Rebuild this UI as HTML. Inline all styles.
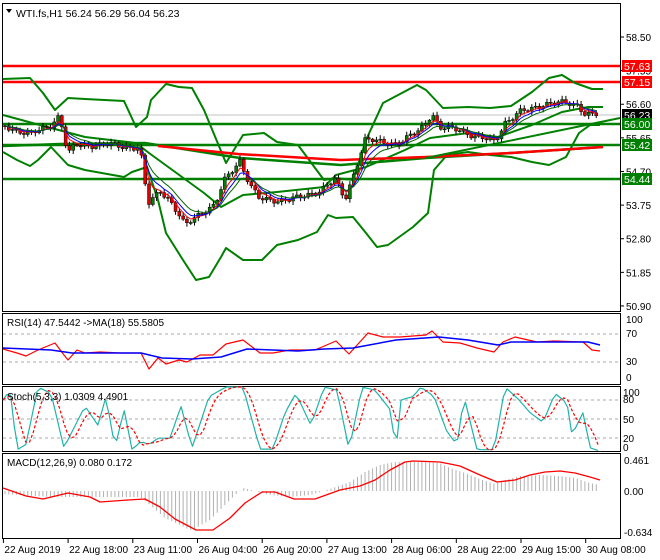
<!DOCTYPE html>
<html><head><meta charset="utf-8"><style>
html,body{margin:0;padding:0;background:#fff;}
svg{display:block;font-family:"Liberation Sans",sans-serif;}
</style></head><body>
<svg id="c" width="660" height="560" xmlns="http://www.w3.org/2000/svg"></svg>
<script>
const S=document.getElementById('c');let h='';
function interp(kp,x){if(x<=kp[0][0])return kp[0][1];for(let i=1;i<kp.length;i++){if(x<=kp[i][0]){const a=kp[i-1],b=kp[i];return a[1]+(b[1]-a[1])*(x-a[0])/(b[0]-a[0]);}}return kp[kp.length-1][1];}
function pl(pts,col,w,extra){return '<polyline fill="none" stroke="'+col+'" stroke-width="'+w+'" stroke-linejoin="round" '+(extra||'')+' points="'+pts.map(p=>p[0].toFixed(1)+','+p[1].toFixed(1)).join(' ')+'"/>';}
function txt(x,y,t,s,c,a){return '<text x="'+x+'" y="'+y+'" font-size="'+(s||11)+'" fill="'+(c||'#000')+'"'+(a?' text-anchor="'+a+'"':'')+'>'+t+'</text>';}
h+='<rect x="2.5" y="3.5" width="618" height="308" fill="none" stroke="#000"/>';
h+='<rect x="2.5" y="313.5" width="618" height="71" fill="none" stroke="#000"/>';
h+='<rect x="2.5" y="386.5" width="618" height="65" fill="none" stroke="#000"/>';
h+='<rect x="2.5" y="453.5" width="618" height="85" fill="none" stroke="#000"/>';
const yp=p=>37+(58.5-p)*35.39;
[58.50,57.55,56.60,55.65,54.70,53.75,52.80,51.85,50.90].forEach(p=>{const y=yp(p);h+='<line x1="620" y1="'+y+'" x2="624" y2="'+y+'" stroke="#000"/>';h+=txt(626,y+4,p.toFixed(2),10);});
h+='<line x1="3" x2="620" y1="115" y2="115" stroke="#c0c0c0"/>';
[[66,'#f00'],[82,'#f00'],[124,'#008000'],[145,'#008000'],[179,'#008000']].forEach(l=>{h+='<line x1="3" x2="620" y1="'+l[0]+'" y2="'+l[0]+'" stroke="'+l[1]+'" stroke-width="2.5"/>';});
const up=[[3,79],[30,78],[43,93],[55,110],[68,98],[85,99],[124,101],[136,127],[147,117],[151,100],[166,84],[179,87],[192,88],[204,110],[226,163],[243,135],[264,133],[277,142],[298,145],[324,180],[336,178],[353,180],[366,140],[383,103],[417,85],[426,90],[443,108],[468,107],[490,108],[511,106],[532,92],[549,78],[562,75],[575,83],[592,89],[603,89]];
const lo=[[3,152],[17,160],[30,166],[38,160],[51,147],[68,165],[85,170],[124,177],[132,172],[147,167],[158,200],[166,233],[183,260],[196,280],[209,277],[221,257],[226,248],[243,260],[262,260],[277,245],[298,240],[317,232],[328,215],[336,218],[353,217],[366,233],[377,247],[388,245],[413,227],[428,213],[434,170],[447,155],[468,152],[490,155],[511,157],[532,162],[549,165],[566,157],[579,133],[590,125],[600,125]];
const mid=[[3,115],[51,128],[85,137],[136,143],[149,153],[204,193],[221,207],[243,195],[277,192],[324,187],[336,175],[366,167],[405,150],[430,138],[468,133],[498,137],[532,125],[562,112],[588,107],[603,107]];
h+=pl(up,'#008000',2)+pl(lo,'#008000',2)+pl(mid,'#008000',2);
h+=pl([[3,146],[60,144],[145,143],[240,158],[341,165],[426,158],[511,153],[603,147]],'#008000',2.5);
h+=pl([[158,146],[238,154],[341,160],[426,157],[511,153],[603,147]],'#f00',2.5);
h+=pl([[426,158],[620,118]],'#008000',2);
const ck=[[3,125],[30,135],[50,125],[60,115],[63,133],[68,155],[75,145],[90,145],[110,145],[140,148],[148,205],[160,190],[170,200],[185,226],[200,213],[215,205],[225,180],[240,160],[250,185],[260,200],[280,200],[300,198],[320,190],[335,180],[345,200],[355,170],[365,140],[380,142],[400,143],[420,130],[432,113],[440,128],[460,130],[480,138],[495,142],[505,122],[520,112],[530,110],[545,103],[560,103],[578,105],[585,113],[598,115]];
let closes=[],xs=[];
for(let i=0;i<157;i++){const x=5+i*3.79;const c=interp(ck,x)+2.2*Math.sin(i*1.7)+1.5*Math.sin(i*0.63);closes.push(c);xs.push(x);}
for(let i=0;i<closes.length;i++){const o=i?closes[i-1]:closes[0],c=closes[i],x=xs[i];const t=Math.min(o,c)-1-3*Math.abs(Math.sin(i*2.3)),b=Math.max(o,c)+1+3*Math.abs(Math.cos(i*1.9));
h+='<line x1="'+x+'" x2="'+x+'" y1="'+t+'" y2="'+b+'" stroke="#000"/>';
const col=c<o?'#008000':'#e00000';h+='<rect x="'+(x-1.5)+'" y="'+Math.min(o,c)+'" width="3" height="'+Math.max(1,Math.abs(o-c))+'" fill="'+col+'" stroke="#000" stroke-width="0.5"/>';}
function ema(a,n){const k=2/(n+1);let r=[],e=a[0];a.forEach(v=>{e=v*k+e*(1-k);r.push(e);});return r;}
[[4,'#f00'],[6,'#00f'],[9,'#006400']].forEach(m=>{const e=ema(closes,m[0]);h+=pl(e.map((v,i)=>[xs[i],v]),m[1],1);});
function box(y,t,bg){h+='<rect x="622" y="'+(y-6)+'" width="30" height="12" fill="'+bg+'"/>'+txt(624,y+4,t,10.5,'#fff');}
box(66,'57.63','#f00');box(82,'57.15','#f00');box(115,'56.23','#000');box(124,'56.00','#008000');box(145,'55.42','#008000');box(179,'54.44','#008000');
h+='<path d="M6 9 L12 9 L9 13 Z" fill="#000"/>'+txt(16,17,'WTI.fs,H1  56.24 56.29 56.04 56.23',10.5);
[334,362].forEach(y=>h+='<line x1="3" x2="620" y1="'+y+'" y2="'+y+'" stroke="#aaa" stroke-dasharray="3,3"/>');
[[100,323],[70,337],[30,365],[0,381]].forEach(l=>h+=txt(626,l[1],l[0],10));
h+=txt(7,326,'RSI(14) 47.5442  -&gt;MA(18) 55.5805',10);
const rsi=[[3,349],[17,353],[26,356],[38,350],[55,343],[64,355],[68,360],[77,350],[85,353],[100,352],[120,353],[141,353],[149,369],[158,358],[166,364],[179,360],[187,362],[200,355],[213,355],[226,344],[243,340],[260,353],[273,353],[290,350],[315,350],[336,341],[349,354],[368,333],[383,337],[400,337],[426,335],[432,331],[443,342],[460,343],[477,348],[494,352],[503,342],[515,337],[537,342],[554,341],[583,342],[592,350],[600,351]];
const rma=[[3,348],[51,350],[72,353],[141,353],[162,358],[192,359],[221,357],[247,349],[298,351],[324,349],[353,348],[396,340],[439,337],[468,340],[498,345],[511,342],[588,342],[600,345]];
h+=pl(rsi,'#f00',1.2)+pl(rma,'#00f',1.5);
[400,419,438].forEach(y=>h+='<line x1="3" x2="620" y1="'+y+'" y2="'+y+'" stroke="#aaa" stroke-dasharray="3,3"/>');
[[100,396],[80,403],[50,423],[20,442],[0,451]].forEach(l=>h+=txt(623,l[1],l[0],10));
const ys=v=>451-v*0.64;
const st=[[3,80],[10,95],[17,2],[26,10],[38,100],[51,90],[64,5],[72,30],[85,70],[98,40],[106,85],[115,5],[124,65],[132,2],[141,15],[149,10],[158,20],[170,20],[181,70],[192,5],[209,85],[226,100],[243,100],[260,3],[273,3],[285,60],[296,90],[311,40],[324,100],[337,95],[349,2],[362,100],[375,95],[390,65],[396,2],[401,80],[413,85],[421,100],[434,85],[447,30],[457,10],[464,85],[477,2],[494,2],[505,100],[519,80],[530,60],[543,45],[555,90],[567,75],[572,25],[583,60],[590,5],[600,0]];
const sk=[],sd=[];for(let x=3;x<=600;x+=3.79){sk.push([x,interp(st,x)]);}
for(let i=0;i<sk.length;i++){let s=0,n=0;for(let j=Math.max(0,i-3);j<=i;j++){s+=sk[j][1];n++;}sd.push([sk[i][0],s/n]);}
h+=pl(sk.map(p=>[p[0],ys(p[1])]),'#20b2aa',1.2)+pl(sd.map(p=>[p[0],ys(p[1])]),'#f00',1.2,'stroke-dasharray="3,2"');
h+=txt(7,400,'Stoch(5,3,3) 1.0309 4.4901',10);
[[0.461,464],['0.00',495],[-0.634,536]].forEach(l=>h+=txt(624,l[1],l[0],10));
const mh=[[3,494],[50,497],[140,497],[150,505],[165,518],[180,525],[190,530],[196,528],[210,520],[220,510],[235,495],[243,488],[255,491],[270,495],[290,497],[310,495],[330,489],[350,482],[365,472],[380,465],[395,462],[420,462],[440,463],[450,468],[465,473],[480,479],[495,484],[505,480],[520,476],[540,475],[560,476],[575,478],[590,483],[600,485]];
for(let x=5;x<=600;x+=3.79){const y=interp(mh,x);h+='<line x1="'+x+'" x2="'+x+'" y1="491" y2="'+y+'" stroke="#b0b0b0"/>';}
const sig=[[3,488],[26,496],[43,499],[68,493],[90,497],[100,502],[128,500],[145,499],[160,507],[175,519],[196,530],[213,530],[230,518],[245,503],[262,492],[275,492],[294,499],[315,499],[340,490],[360,486],[375,480],[390,470],[405,462],[413,461],[440,462],[460,466],[480,475],[497,482],[515,480],[530,475],[545,472],[560,471],[575,473],[590,477],[600,480]];
h+=pl(sig,'#f00',1.3);
h+=txt(7,466,'MACD(12,26,9) 0.080 0.172',10);
const tl=['22 Aug 2019','22 Aug 18:00','23 Aug 11:00','26 Aug 04:00','26 Aug 20:00','27 Aug 13:00','28 Aug 06:00','28 Aug 22:00','29 Aug 15:00','30 Aug 08:00'];
tl.forEach((t,i)=>{const x=3.4+i*64.7;h+='<line x1="'+x+'" x2="'+x+'" y1="539" y2="543" stroke="#000"/>'+txt(x+1,553,t,10);});
S.innerHTML=h;
</script>
</body></html>
